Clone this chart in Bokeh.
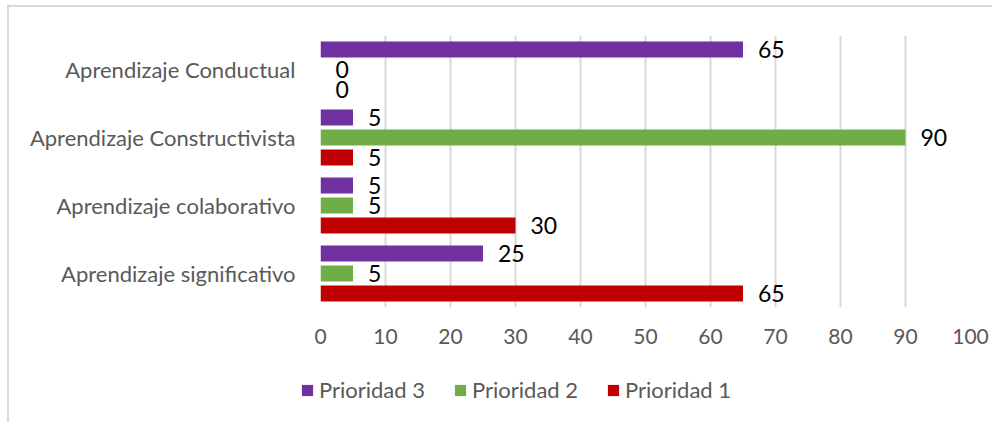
from bokeh.plotting import figure
from bokeh.models import (ColumnDataSource, Range1d, FactorRange, Legend, LegendItem,
                          LabelSet, FixedTicker)
from bokeh.transform import dodge
from bokeh.core.properties import value
from bokeh.embed import file_html
from bokeh.resources import INLINE

# ---- data (bottom to top) ----
categories = ["Aprendizaje significativo", "Aprendizaje colaborativo",
              "Aprendizaje Constructivista", "Aprendizaje Conductual"]
prioridad_1 = [65, 30, 5, 0]
prioridad_2 = [5, 5, 90, 0]
prioridad_3 = [25, 5, 5, 65]
series_names = ["Prioridad 3", "Prioridad 2", "Prioridad 1"]
x_ticks = [0, 10, 20, 30, 40, 50, 60, 70, 80, 90, 100]

COL_P1 = "#C00000"
COL_P2 = "#70AD47"
COL_P3 = "#7030A0"
TEXT_GRAY = "#595959"
GRID = "#d9d9d9"
FONT = "Lato"

src = ColumnDataSource(dict(
    cat=categories,
    p1=prioridad_1, p2=prioridad_2, p3=prioridad_3,
    t1=[str(v) for v in prioridad_1],
    t2=[str(v) for v in prioridad_2],
    t3=[str(v) for v in prioridad_3],
))

p = figure(y_range=FactorRange(*categories), x_range=Range1d(0, 100),
           width=985, height=355, output_backend="svg", toolbar_location=None,
           min_border_left=311, min_border_right=24, min_border_top=28,
           min_border_bottom=55,
           styles={"margin-left": "7px", "margin-top": "5px",
                   "border-left": "2px solid #d9d9d9",
                   "border-top": "2px solid #d9d9d9"})
p.outline_line_color = None
p.background_fill_color = "white"

OFF = 0.294
H = 0.235
r3 = p.hbar(y=dodge("cat", OFF, range=p.y_range), left=0, right="p3", height=H,
            fill_color=COL_P3, line_color=None, source=src)
r2 = p.hbar(y=dodge("cat", 0.0, range=p.y_range), left=0, right="p2", height=H,
            fill_color=COL_P2, line_color=None, source=src)
r1 = p.hbar(y=dodge("cat", -OFF, range=p.y_range), left=0, right="p1", height=H,
            fill_color=COL_P1, line_color=None, source=src)

for xcol, tcol, off in [("p3", "t3", OFF), ("p2", "t2", 0.0), ("p1", "t1", -OFF)]:
    lab = LabelSet(x=xcol, y=dodge("cat", off, range=p.y_range), text=tcol,
                   x_offset=15, text_baseline="middle", text_align="left",
                   text_font=value(FONT), text_font_size="23px",
                   text_color="#000000", source=src)
    p.add_layout(lab)

# axes / grid
p.xaxis.ticker = FixedTicker(ticks=x_ticks)
p.xgrid.ticker = FixedTicker(ticks=x_ticks)
p.xgrid.grid_line_color = GRID
p.xgrid.grid_line_width = 2
p.ygrid.grid_line_color = None

for ax in (p.xaxis, p.yaxis):
    ax.axis_line_color = None
    ax.major_tick_line_color = None
    ax.minor_tick_line_color = None
    ax.major_tick_out = 0
    ax.major_tick_in = 0
    ax.major_label_text_font = FONT
    ax.major_label_text_color = TEXT_GRAY
p.xaxis.major_label_text_font_size = "21px"
p.yaxis.major_label_text_font_size = "22px"
p.xaxis.major_label_standoff = 21
p.yaxis.major_label_standoff = 25

# ---- legend strip below the chart (separate root, no frame alignment) ----
q = figure(width=985, height=62, x_range=Range1d(0, 100),
           y_range=FactorRange(*categories),
           output_backend="svg", toolbar_location=None, min_border=0,
           styles={"margin-left": "7px",
                   "border-left": "2px solid #d9d9d9"})
q.axis.visible = False
q.grid.visible = False
q.outline_line_color = None
g3 = q.hbar(y="cat", right="p3", height=H, fill_color=COL_P3, line_color=None,
            source=src, visible=False)
g2 = q.hbar(y="cat", right="p2", height=H, fill_color=COL_P2, line_color=None,
            source=src, visible=False)
g1 = q.hbar(y="cat", right="p1", height=H, fill_color=COL_P1, line_color=None,
            source=src, visible=False)

legend = Legend(items=[LegendItem(label=series_names[0], renderers=[g3]),
                       LegendItem(label=series_names[1], renderers=[g2]),
                       LegendItem(label=series_names[2], renderers=[g1])],
                orientation="horizontal", location=(291, 19),
                border_line_color=None, background_fill_alpha=0,
                padding=0, margin=0, spacing=28,
                glyph_width=14, glyph_height=14, label_standoff=5,
                label_text_font=FONT, label_text_font_size="22px",
                label_text_color=TEXT_GRAY)
q.add_layout(legend)

open("out.html", "w").write(file_html([p, q], INLINE))
